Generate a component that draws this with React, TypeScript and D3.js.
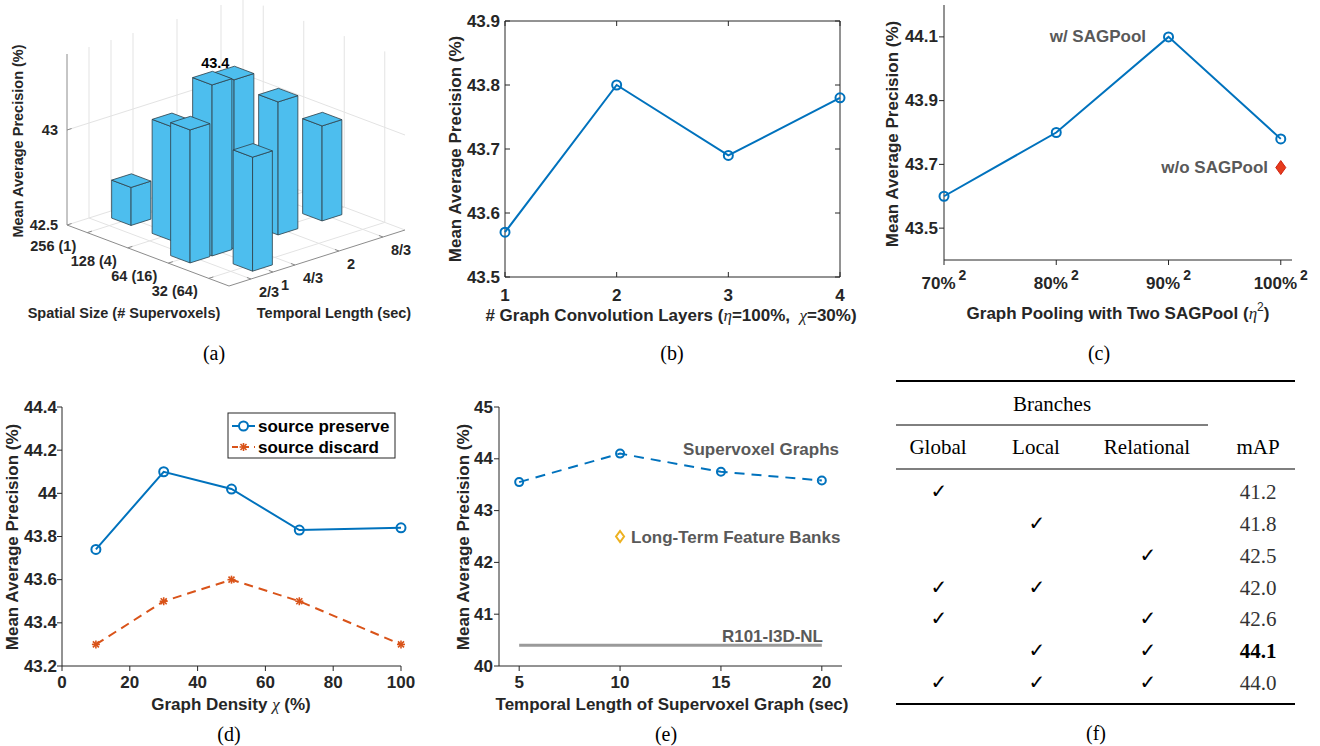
import React from 'react';
import * as d3 from 'd3';

const W = 1320;
const H = 746;

const BLUE = '#0072BD';
const ORANGE = '#D95319';
const YELLOW = '#EDB120';
const BAR = '#4DBEEE';
const AX = '#262626';
const NOTE = '#595959';
const SANS = '"Liberation Sans", Arial, Helvetica, sans-serif';
const SERIF = '"Liberation Serif", "Times New Roman", serif';

// (a) spatial size x temporal length
const spatialTicks = [1, 2, 3, 4];
const spatialLabels = ['256 (1)', '128 (4)', '64 (16)', '32 (64)'];
const temporalTicks = [2 / 3, 1, 4 / 3, 2, 8 / 3];
const temporalLabels = ['2/3', '1', '4/3', '2', '8/3'];
const zTicks = [42.5, 43];
const barSpatial = [1, 2, 3, 4, 3, 3, 3, 3];
const barTemporal = [1, 1, 1, 1, 2 / 3, 4 / 3, 2, 8 / 3];
const barMAP = [42.7, 43.1, 43.4, 43.1, 43.2, 43.39, 43.2, 43.0];

// (b) graph conv layers
const gcnLayers = [1, 2, 3, 4];
const gcnMAP = [43.57, 43.8, 43.69, 43.78];

// (c) SAGPool
const poolRatio = [70, 80, 90, 100];
const poolLabels = ['70%', '80%', '90%', '100%'];
const poolMAP = [43.6, 43.8, 44.1, 43.78];
const noPoolRatio = 100;
const noPoolMAP = 43.69;

// (d) graph density
const density = [10, 30, 50, 70, 100];
const preserveMAP = [43.74, 44.1, 44.02, 43.83, 43.84];
const discardMAP = [43.3, 43.5, 43.6, 43.5, 43.3];

// (e) temporal length
const graphLength = [5, 10, 15, 20];
const graphMAP = [43.55, 44.1, 43.75, 43.58];
const ltfbLength = 10;
const ltfbMAP = 42.5;
const r101Range = [5, 20];
const r101MAP = 40.4;

// (f) branches table
const branchHeads = ['Global', 'Local', 'Relational'];
const branchRows = [
  [1, 0, 0],
  [0, 1, 0],
  [0, 0, 1],
  [1, 1, 0],
  [1, 0, 1],
  [0, 1, 1],
  [1, 1, 1],
];
const rowMAP = ['41.2', '41.8', '42.5', '42.0', '42.6', '44.1', '44.0'];
const bestRow = 5;

const trim = (v: number) => String(+v.toFixed(1));

function Axes({ x, y, xTicks, yTicks, xFmt, yFmt, box = false, tickIn = false, xLabDy = 16, yGap = 6 }: any) {
  const [x0, x1] = x.range();
  const [y0, y1] = y.range();
  const tl = 5;
  const lt = tickIn ? tl : -tl;
  return (
    <g stroke={AX} strokeWidth={1} fontFamily={SANS} fontWeight="bold" fontSize={17}>
      <line x1={x0} y1={y0} x2={x1} y2={y0} />
      <line x1={x0} y1={y0} x2={x0} y2={y1} />
      {box && <line x1={x0} y1={y1} x2={x1} y2={y1} />}
      {box && <line x1={x1} y1={y0} x2={x1} y2={y1} />}
      {yTicks.map((v: number) => (
        <line key={'yl' + v} x1={x0} x2={x0 + lt} y1={y(v)} y2={y(v)} />
      ))}
      {box && yTicks.map((v: number) => <line key={'yr' + v} x1={x1} x2={x1 - tl} y1={y(v)} y2={y(v)} />)}
      {xTicks.map((v: number) => (
        <line key={'xb' + v} x1={x(v)} x2={x(v)} y1={y0} y2={y0 - lt} />
      ))}
      {box && xTicks.map((v: number) => <line key={'xt' + v} x1={x(v)} x2={x(v)} y1={y1} y2={y1 + tl} />)}
      {yTicks.map((v: number) => (
        <text key={'yt' + v} stroke="none" fill={AX} x={x0 - yGap} y={y(v)} textAnchor="end" dominantBaseline="central">
          {yFmt(v)}
        </text>
      ))}
      {xFmt &&
        xTicks.map((v: number) => (
          <text key={'xtx' + v} stroke="none" fill={AX} x={x(v)} y={y0 + xLabDy} textAnchor="middle" dominantBaseline="central">
            {xFmt(v)}
          </text>
        ))}
    </g>
  );
}

function YLabel({ cx, cy, size = 17 }: any) {
  return (
    <text
      transform={`translate(${cx},${cy}) rotate(-90)`}
      textAnchor="middle"
      dominantBaseline="central"
      fontFamily={SANS}
      fontWeight="bold"
      fontSize={size}
      fill={AX}
    >
      Mean Average Precision (%)
    </text>
  );
}

function Caption({ x, y, label }: any) {
  return (
    <text x={x} y={y} textAnchor="middle" dominantBaseline="central" fontFamily={SERIF} fontSize={20} fill="#000">
      {label}
    </text>
  );
}

const greek = { fontFamily: SERIF, fontStyle: 'italic', fontWeight: 'normal' } as any;

function PanelA() {
  const sS = d3.scaleLinear().domain([0.5, 4.5]).range([0, 1]);
  const tS = d3.scaleLinear().domain([1 / 3, 3]).range([0, 1]);
  const zS = d3.scaleLinear().domain([42.5, 43]).range([0, 95]);
  const S0 = 0.5, S1 = 4.5, T0 = 1 / 3, T1 = 3, Z0 = 42.5, ZT = 43.4;
  const org = [67, 225], U = [162, 61], V = [176, -56];
  const p = (s: number, t: number, z: number) => {
    const a = sS(s), b = tS(t);
    return [org[0] + a * U[0] + b * V[0], org[1] + a * U[1] + b * V[1] - zS(z)];
  };
  const seg = (a: number[], b: number[], key: string, props: any) => {
    const [x1, y1] = p(a[0], a[1], a[2]);
    const [x2, y2] = p(b[0], b[1], b[2]);
    return <line key={key} x1={x1} y1={y1} x2={x2} y2={y2} {...props} />;
  };
  const poly = (pts: number[][]) => pts.map((q) => p(q[0], q[1], q[2]).join(',')).join(' ');
  const grid = { stroke: '#e3e3e3', strokeWidth: 1 };
  const axis = { stroke: '#8c8c8c', strokeWidth: 1 };

  const hs = 0.24, ht = 0.15;
  const order = d3.range(barMAP.length).sort(
    (i, j) => sS(barSpatial[i]) - tS(barTemporal[i]) - (sS(barSpatial[j]) - tS(barTemporal[j]))
  );
  const best = d3.maxIndex(barMAP);
  const [bx, by] = p(barSpatial[best], barTemporal[best], barMAP[best]);

  return (
    <g>
      {/* back walls and floor grid */}
      {temporalTicks.map((t, i) => seg([S0, t, Z0], [S0, t, ZT], 'wt' + i, grid))}
      {spatialTicks.map((s, i) => seg([s, T1, Z0], [s, T1, ZT], 'ws' + i, grid))}
      {zTicks.map((z, i) => seg([S0, T0, z], [S0, T1, z], 'wzl' + i, grid))}
      {zTicks.map((z, i) => seg([S0, T1, z], [S1, T1, z], 'wzr' + i, grid))}
      {seg([S0, T1, Z0], [S0, T1, ZT], 'corner', grid)}
      {spatialTicks.map((s, i) => seg([s, T0, Z0], [s, T1, Z0], 'fs' + i, grid))}
      {temporalTicks.map((t, i) => seg([S0, t, Z0], [S1, t, Z0], 'ft' + i, grid))}
      {/* axes */}
      {seg([S0, T0, Z0], [S0, T0, ZT], 'za', axis)}
      {seg([S0, T0, Z0], [S1, T0, Z0], 'sa', axis)}
      {seg([S1, T0, Z0], [S1, T1, Z0], 'ta', axis)}
      {spatialTicks.map((s, i) => seg([s, T0, Z0], [s, T0 + 0.07, Z0], 'st' + i, axis))}
      {temporalTicks.map((t, i) => seg([S1, t, Z0], [S1 - 0.1, t, Z0], 'tt' + i, axis))}
      {zTicks.map((z, i) => seg([S0, T0, z], [S0, T0 + 0.07, z], 'zt' + i, axis))}
      {/* bars, back to front */}
      {order.map((i) => {
        const s = barSpatial[i], t = barTemporal[i], z = barMAP[i];
        const s0 = s - hs, s1 = s + hs, t0 = t - ht, t1 = t + ht;
        const st = { fill: BAR, stroke: '#2e3f48', strokeWidth: 0.8, strokeLinejoin: 'round' as any };
        return (
          <g key={'bar' + i}>
            <polygon points={poly([[s0, t0, Z0], [s1, t0, Z0], [s1, t0, z], [s0, t0, z]])} {...st} />
            <polygon points={poly([[s1, t0, Z0], [s1, t1, Z0], [s1, t1, z], [s1, t0, z]])} {...st} />
            <polygon points={poly([[s0, t0, z], [s1, t0, z], [s1, t1, z], [s0, t1, z]])} {...st} />
          </g>
        );
      })}
      <text x={bx + 3} y={by - 10} textAnchor="middle" fontFamily={SANS} fontWeight="bold" fontSize={14.5} fill="#000">
        {trim(barMAP[best])}
      </text>
      <g fontFamily={SANS} fontWeight="bold" fontSize={14.5} fill={AX}>
        {zTicks.map((z, i) => {
          const [x, y] = p(S0, T0, z);
          return (
            <text key={'zl' + i} x={x - 9} y={y} textAnchor="end" dominantBaseline="central">
              {trim(z)}
            </text>
          );
        })}
        {spatialTicks.map((s, i) => {
          const [x, y] = p(s, T0, Z0);
          return (
            <text key={'sl' + i} x={x - 11} y={y + 13} textAnchor="end" dominantBaseline="central">
              {spatialLabels[i]}
            </text>
          );
        })}
        {temporalTicks.map((t, i) => {
          const [x, y] = p(S1, t, Z0);
          return (
            <text key={'tl' + i} x={x + 8} y={y + 13} textAnchor="start" dominantBaseline="central">
              {temporalLabels[i]}
            </text>
          );
        })}
        <text x={124} y={313} textAnchor="middle" dominantBaseline="central">
          Spatial Size (# Supervoxels)
        </text>
        <text x={334} y={313} textAnchor="middle" dominantBaseline="central">
          Temporal Length (sec)
        </text>
      </g>
      <YLabel cx={18} cy={141} size={14.5} />
      <Caption x={214} y={353} label="(a)" />
    </g>
  );
}

function PanelB() {
  const x = d3.scaleLinear().domain([1, 4]).range([505, 840]);
  const y = d3.scaleLinear().domain([43.5, 43.9]).range([277, 21]);
  const line = d3.line<number>().x((_, i) => x(gcnLayers[i])).y((d) => y(d));
  return (
    <g>
      <Axes x={x} y={y} xTicks={gcnLayers} yTicks={d3.range(43.5, 43.95, 0.1)} xFmt={(v: number) => v} yFmt={(v: number) => v.toFixed(1)} box tickIn xLabDy={18} yGap={5} />
      <path d={line(gcnMAP) || ''} fill="none" stroke={BLUE} strokeWidth={2} />
      {gcnMAP.map((v, i) => (
        <circle key={i} cx={x(gcnLayers[i])} cy={y(v)} r={4.5} fill="none" stroke={BLUE} strokeWidth={2} />
      ))}
      <text x={671} y={315} textAnchor="middle" dominantBaseline="central" fontFamily={SANS} fontWeight="bold" fontSize={17} fill={AX}>
        # Graph Convolution Layers (<tspan {...greek}>η</tspan>=100%,{'\u00a0\u00a0'}<tspan {...greek}>χ</tspan>=30%)
      </text>
      <YLabel cx={455} cy={149} />
      <Caption x={672} y={353} label="(b)" />
    </g>
  );
}

function PanelC() {
  const x = d3.scaleLinear().domain([70, 101]).range([944, 1292]);
  const y = d3.scaleLinear().domain([43.4, 44.2]).range([260, 5]);
  const line = d3.line<number>().x((_, i) => x(poolRatio[i])).y((d) => y(d));
  const dx = x(noPoolRatio), dy = y(noPoolMAP);
  return (
    <g>
      <Axes x={x} y={y} xTicks={poolRatio} yTicks={[43.5, 43.7, 43.9, 44.1]} yFmt={(v: number) => v.toFixed(1)} />
      <g fontFamily={SANS} fontWeight="bold" fontSize={17} fill={AX}>
        {poolRatio.map((v, i) => (
          <text key={i} x={x(v)} y={289} textAnchor="middle">
            {poolLabels[i]}
            <tspan dx={3} dy={-9} fontSize={14}>2</tspan>
          </text>
        ))}
        <text x={1118} y={319} textAnchor="middle">
          Graph Pooling with Two SAGPool (<tspan {...greek}>η</tspan>
          <tspan dy={-8} fontSize={12} fontWeight="normal">2</tspan>
          <tspan dy={8}>)</tspan>
        </text>
      </g>
      <path d={line(poolMAP) || ''} fill="none" stroke={BLUE} strokeWidth={2} />
      {poolMAP.map((v, i) => (
        <circle key={i} cx={x(poolRatio[i])} cy={y(v)} r={4.5} fill="none" stroke={BLUE} strokeWidth={2} />
      ))}
      <path d={`M${dx},${dy - 7}L${dx + 5},${dy}L${dx},${dy + 7}L${dx - 5},${dy}Z`} fill="#e63b1c" stroke="#d0210f" strokeWidth={1} />
      <g fontFamily={SANS} fontWeight="bold" fontSize={17} fill={NOTE}>
        <text x={1146} y={y(44.1)} textAnchor="end" dominantBaseline="central">w/ SAGPool</text>
        <text x={1268} y={dy} textAnchor="end" dominantBaseline="central">w/o SAGPool</text>
      </g>
      <YLabel cx={892} cy={134} />
      <Caption x={1099} y={353} label="(c)" />
    </g>
  );
}

function Star({ cx, cy, r, color }: any) {
  const d = r * 0.75;
  return (
    <g stroke={color} strokeWidth={1.6}>
      <line x1={cx - r} y1={cy} x2={cx + r} y2={cy} />
      <line x1={cx} y1={cy - r} x2={cx} y2={cy + r} />
      <line x1={cx - d} y1={cy - d} x2={cx + d} y2={cy + d} />
      <line x1={cx - d} y1={cy + d} x2={cx + d} y2={cy - d} />
    </g>
  );
}

function PanelD() {
  const x = d3.scaleLinear().domain([0, 100]).range([62, 401]);
  const y = d3.scaleLinear().domain([43.2, 44.4]).range([666, 407]);
  const line = d3.line<number>().x((_, i) => x(density[i])).y((d) => y(d));
  return (
    <g>
      <Axes x={x} y={y} xTicks={d3.range(0, 101, 20)} yTicks={d3.range(43.2, 44.45, 0.2)} xFmt={(v: number) => v} yFmt={trim} xLabDy={16} yGap={5} />
      <path d={line(discardMAP) || ''} fill="none" stroke={ORANGE} strokeWidth={2} strokeDasharray="9 6" />
      {discardMAP.map((v, i) => (
        <Star key={i} cx={x(density[i])} cy={y(v)} r={4} color={ORANGE} />
      ))}
      <path d={line(preserveMAP) || ''} fill="none" stroke={BLUE} strokeWidth={2} />
      {preserveMAP.map((v, i) => (
        <circle key={i} cx={x(density[i])} cy={y(v)} r={4.5} fill="none" stroke={BLUE} strokeWidth={2} />
      ))}
      <rect x={228} y={413} width={167} height={45} fill="#fff" stroke={AX} strokeWidth={1} />
      <line x1={232} x2={255} y1={426} y2={426} stroke={BLUE} strokeWidth={2} />
      <circle cx={243.5} cy={426} r={4.5} fill="#fff" stroke={BLUE} strokeWidth={2} />
      <line x1={232} x2={255} y1={447} y2={447} stroke={ORANGE} strokeWidth={2} strokeDasharray="6 5" />
      <Star cx={243.5} cy={447} r={4} color={ORANGE} />
      <g fontFamily={SANS} fontWeight="bold" fontSize={17} fill="#000">
        <text x={258} y={426} dominantBaseline="central">source preserve</text>
        <text x={258} y={447} dominantBaseline="central">source discard</text>
      </g>
      <text x={231} y={704} textAnchor="middle" dominantBaseline="central" fontFamily={SANS} fontWeight="bold" fontSize={17} fill={AX}>
        Graph Density <tspan {...greek}>χ</tspan> (%)
      </text>
      <YLabel cx={12} cy={537} />
      <Caption x={229} y={734} label="(d)" />
    </g>
  );
}

function PanelE() {
  const x = d3.scaleLinear().domain([4, 21]).range([499, 842]);
  const y = d3.scaleLinear().domain([40, 45]).range([666, 407]);
  const line = d3.line<number>().x((_, i) => x(graphLength[i])).y((d) => y(d));
  const lx = x(ltfbLength), ly = y(ltfbMAP);
  return (
    <g>
      <Axes x={x} y={y} xTicks={graphLength} yTicks={d3.range(40, 46, 1)} xFmt={(v: number) => v} yFmt={(v: number) => v} xLabDy={16} yGap={6} />
      <line x1={x(r101Range[0])} x2={x(r101Range[1])} y1={y(r101MAP)} y2={y(r101MAP)} stroke="#9a9a9a" strokeWidth={3} />
      <path d={line(graphMAP) || ''} fill="none" stroke={BLUE} strokeWidth={2} strokeDasharray="10 7" />
      {graphMAP.map((v, i) => (
        <circle key={i} cx={x(graphLength[i])} cy={y(v)} r={4} fill="none" stroke={BLUE} strokeWidth={2} />
      ))}
      <path d={`M${lx},${ly - 5.5}L${lx + 4},${ly}L${lx},${ly + 5.5}L${lx - 4},${ly}Z`} fill="none" stroke={YELLOW} strokeWidth={2} />
      <g fontFamily={SANS} fontWeight="bold" fontSize={17} fill={NOTE}>
        <text x={839} y={449} textAnchor="end" dominantBaseline="central">Supervoxel Graphs</text>
        <text x={631} y={537} dominantBaseline="central">Long-Term Feature Banks</text>
        <text x={823} y={636} textAnchor="end" dominantBaseline="central">R101-I3D-NL</text>
      </g>
      <text x={672} y={704} textAnchor="middle" dominantBaseline="central" fontFamily={SANS} fontWeight="bold" fontSize={17} fill={AX}>
        Temporal Length of Supervoxel Graph (sec)
      </text>
      <YLabel cx={463} cy={537} />
      <Caption x={666} y={734} label="(e)" />
    </g>
  );
}

function PanelF() {
  const colX = [939, 1037, 1148];
  const mapX = 1258;
  const rowY = d3.scaleLinear().domain([0, branchRows.length - 1]).range([492, 683]);
  return (
    <g fontFamily={SERIF} fontSize={21} fill="#000">
      <line x1={896} x2={1295} y1={381} y2={381} stroke="#000" strokeWidth={2} />
      <text x={1052} y={404} textAnchor="middle" dominantBaseline="central">Branches</text>
      <line x1={896} x2={1208} y1={425} y2={425} stroke="#000" strokeWidth={1} />
      {branchHeads.map((h, i) => (
        <text key={h} x={colX[i] - 1} y={447} textAnchor="middle" dominantBaseline="central">{h}</text>
      ))}
      <text x={mapX} y={447} textAnchor="middle" dominantBaseline="central">mAP</text>
      <line x1={896} x2={1295} y1={469} y2={469} stroke="#000" strokeWidth={1.2} />
      {branchRows.map((row, r) => (
        <g key={r}>
          {row.map((on, c) =>
            on ? (
              <text key={c} x={colX[c]} y={rowY(r) - 1} textAnchor="middle" dominantBaseline="central" fontSize={20} fontFamily='"DejaVu Sans", sans-serif'>
                ✓
              </text>
            ) : null
          )}
          <text x={mapX} y={rowY(r)} textAnchor="middle" dominantBaseline="central" fontWeight={r === bestRow ? 'bold' : 'normal'} fill={r === bestRow ? '#000' : '#333'}>
            {rowMAP[r]}
          </text>
        </g>
      ))}
      <line x1={896} x2={1295} y1={704} y2={704} stroke="#000" strokeWidth={2} />
      <Caption x={1096} y={733} label="(f)" />
    </g>
  );
}

export default function App() {
  return (
    <div style={{ position: 'absolute', left: 0, top: 0, width: W, height: H, background: '#fff' }}>
      <svg width={W} height={H} style={{ display: 'block' }}>
        <rect width={W} height={H} fill="#fff" />
        <PanelA />
        <PanelB />
        <PanelC />
        <PanelD />
        <PanelE />
        <PanelF />
      </svg>
    </div>
  );
}
